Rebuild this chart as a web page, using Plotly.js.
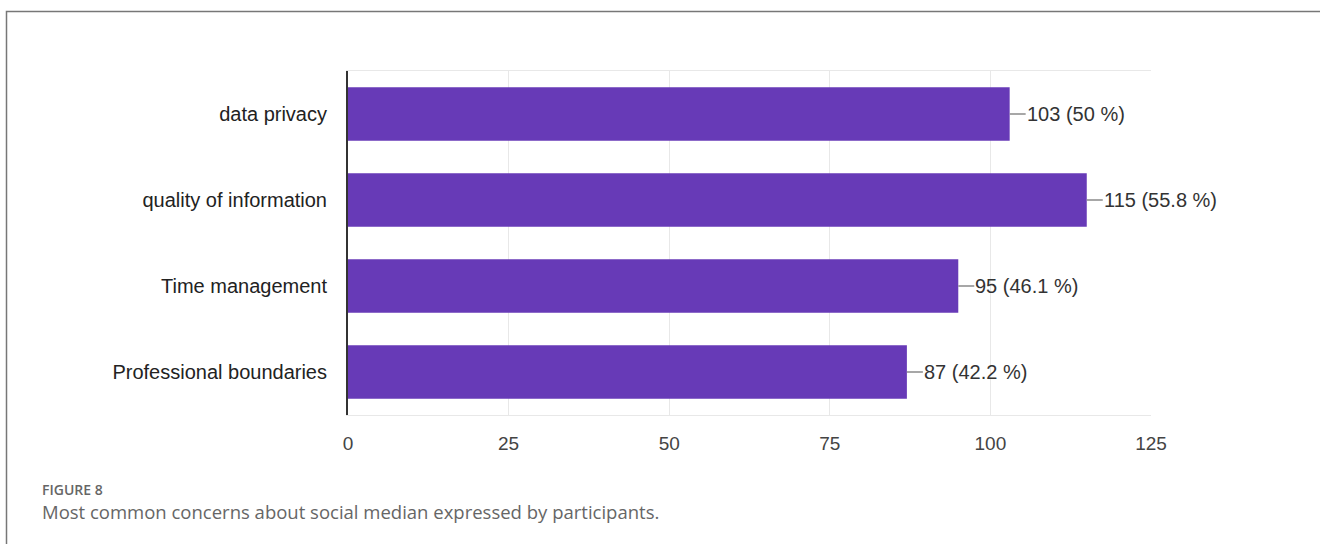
<!DOCTYPE html>
<html>
<head>
<meta charset="utf-8">
<script src="https://cdn.plot.ly/plotly-3.0.1.min.js"></script>
<style>
html,body{margin:0;padding:0;background:#fff;}
#chart{width:1320px;height:544px;}
</style>
</head>
<body>
<div id="chart"></div>
<script>
const categories = ["data privacy", "quality of information", "Time management", "Professional boundaries"];
const counts = [103, 115, 95, 87];
const percents = ["50", "55.8", "46.1", "42.2"];
const xTicks = [0, 25, 50, 75, 100, 125];
const figureLabel = "FIGURE 8";
const captionText = "Most common concerns about social median expressed by participants.";

const W = 1320, H = 544;
const M = {l: 348, r: 169, t: 71, b: 129};
const plotW = W - M.l - M.r, plotH = H - M.t - M.b;
const px2x = px => (px - M.l) / plotW;
const py2y = py => (H - M.b - py) / plotH;
const sans = "Liberation Sans, Arial, sans-serif";

const trace = {
  type: "bar",
  orientation: "h",
  y: categories,
  x: counts,
  marker: {color: "#673ab7"},
  hoverinfo: "skip"
};

const valueAnnotations = categories.map((c, i) => ({
  x: counts[i], y: c, xref: "x", yref: "y",
  text: counts[i] + " (" + percents[i] + " %)",
  showarrow: true, arrowhead: 0, arrowwidth: 1.3, arrowcolor: "#8a8a8a",
  ax: 16, ay: 0, xanchor: "left", yanchor: "middle",
  borderpad: 0, standoff: 0, startstandoff: 0,
  font: {family: sans, size: 20, color: "#333"}
}));

const captionAnnotations = [
  {xref: "paper", yref: "paper", x: px2x(40), y: py2y(489), xanchor: "left", yanchor: "middle",
   text: figureLabel, showarrow: false,
   font: {family: "Open Sans, sans-serif", size: 14, color: "#666", weight: 600}},
  {xref: "paper", yref: "paper", x: px2x(40), y: py2y(511), xanchor: "left", yanchor: "middle",
   text: captionText, showarrow: false,
   font: {family: "Open Sans, sans-serif", size: 18.5, color: "#666"}}
];

const layout = {
  width: W, height: H,
  margin: M,
  paper_bgcolor: "#fff", plot_bgcolor: "#fff",
  showlegend: false,
  bargap: 0.38,
  xaxis: {
    range: [0, 125], tickvals: xTicks, ticktext: xTicks.map(String),
    showgrid: true, gridcolor: "#e8e8e8", gridwidth: 1,
    zeroline: false, showline: true, linecolor: "#e8e8e8", linewidth: 1, mirror: true,
    ticks: "", ticklabelstandoff: 11,
    tickfont: {family: sans, size: 19, color: "#444"},
    fixedrange: true
  },
  yaxis: {
    autorange: "reversed", categoryorder: "array", categoryarray: categories,
    showgrid: false, zeroline: false,
    showline: true, linecolor: "#333", linewidth: 2,
    ticks: "", ticklabelstandoff: 15,
    tickfont: {family: sans, size: 20, color: "#222"},
    fixedrange: true
  },
  shapes: [
    {type: "path", xref: "paper", yref: "paper",
     path: "M " + px2x(6.5) + " " + py2y(544) + " L " + px2x(6.5) + " " + py2y(11.5) + " L " + px2x(1320) + " " + py2y(11.5),
     line: {color: "#777", width: 1.5}}
  ],
  annotations: valueAnnotations.concat(captionAnnotations)
};

Plotly.newPlot("chart", [trace], layout, {displayModeBar: false, staticPlot: true});
</script>
</body>
</html>
